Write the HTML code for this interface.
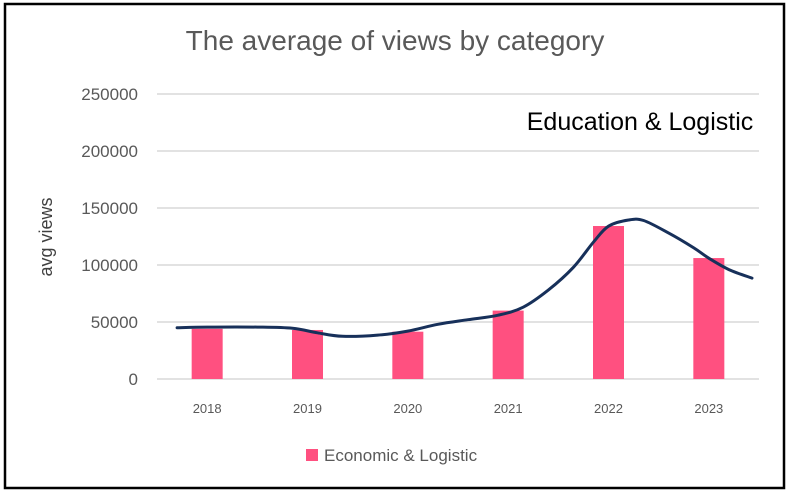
<!DOCTYPE html>
<html><head><meta charset="utf-8">
<style>
html,body{margin:0;padding:0;background:#fff;}
svg{display:block;font-family:"Liberation Sans",sans-serif;}
</style></head>
<body>
<svg id="chart" width="793" height="491">
<rect x="5" y="4" width="779" height="484" fill="#fff" stroke="#000" stroke-width="2.5"/>
<text x="395" y="50" text-anchor="middle" font-size="28" fill="#595959">The average of views by category</text>
<text x="640" y="130" text-anchor="middle" font-size="25" fill="#000">Education &amp; Logistic</text>
<text transform="translate(52,237) rotate(-90)" text-anchor="middle" font-size="18" fill="#404040">avg views</text>
<g id="grid"></g><g id="bars"></g><g id="line"></g><g id="labels"></g>
<rect x="306" y="449" width="12" height="12" fill="#FF5080"/>
<text x="324" y="461" font-size="17" fill="#595959">Economic &amp; Logistic</text>
</svg>
<script>
const categories=["2018","2019","2020","2021","2022","2023"];
const barValues=[44000,43000,41500,60000,134200,106100];
const yTicks=[0,50000,100000,150000,200000,250000];
const lineX=[2017.7,2018,2018.5,2018.85,2019.1,2019.35,2019.7,2020,2020.3,2020.6,2020.9,2021.15,2021.4,2021.65,2021.85,2022,2022.2,2022.35,2022.6,2022.85,2023,2023.2,2023.43];
const lineY=[45000,45500,45500,44500,40500,37500,38500,42000,48000,52000,56000,63000,78000,98000,120000,134000,139500,139000,128000,115000,106000,96000,88500];
const NS="http://www.w3.org/2000/svg";
const x0=157,x1=759,yBase=379,yTop=94,yMax=250000;
const step=(x1-x0)/categories.length;
function xCat(i){return x0+step*(i+0.5);}
function xYear(y){return xCat(y-2018);}
function yS(v){return yBase-(v/yMax)*(yBase-yTop);}
function mk(t,a,p){const e=document.createElementNS(NS,t);for(const k in a)e.setAttribute(k,a[k]);p.appendChild(e);return e;}
const G=document.getElementById('grid'),B=document.getElementById('bars'),L=document.getElementById('line'),T=document.getElementById('labels');
yTicks.forEach(v=>{
 const l=mk('line',{x1:x0,x2:x1,y1:yS(v),y2:yS(v),stroke:'#d9d9d9','stroke-width':1.5},G);
 
 
 const t=mk('text',{x:138,y:yS(v)+6,'text-anchor':'end','font-size':17,fill:'#595959'},T);
 t.textContent=v;
 
 
});
categories.forEach((c,i)=>{
 const w=31;
 const r=mk('rect',{x:xCat(i)-w/2,y:yS(barValues[i]),width:w,height:yBase-yS(barValues[i]),fill:'#FF5080'},B);
 
 
 const t=mk('text',{x:xCat(i),y:413,'text-anchor':'middle','font-size':13,fill:'#595959'},T);
 t.textContent=c;
 
 
});
const pts=lineX.map((x,i)=>[xYear(x),yS(lineY[i])]);
let d='M'+pts[0][0].toFixed(1)+','+pts[0][1].toFixed(1);
for(let i=0;i<pts.length-1;i++){
 const p0=pts[Math.max(0,i-1)],p1=pts[i],p2=pts[i+1],p3=pts[Math.min(pts.length-1,i+2)];
 const c1=[p1[0]+(p2[0]-p0[0])/6,p1[1]+(p2[1]-p0[1])/6];
 const c2=[p2[0]-(p3[0]-p1[0])/6,p2[1]-(p3[1]-p1[1])/6];
 d+='C'+c1[0].toFixed(1)+','+c1[1].toFixed(1)+' '+c2[0].toFixed(1)+','+c2[1].toFixed(1)+' '+p2[0].toFixed(1)+','+p2[1].toFixed(1);
}
const p=mk('path',{d:d,fill:'none',stroke:'#17305A','stroke-width':3,'stroke-linejoin':'round','stroke-linecap':'round'},L);


</script>
</body></html>
